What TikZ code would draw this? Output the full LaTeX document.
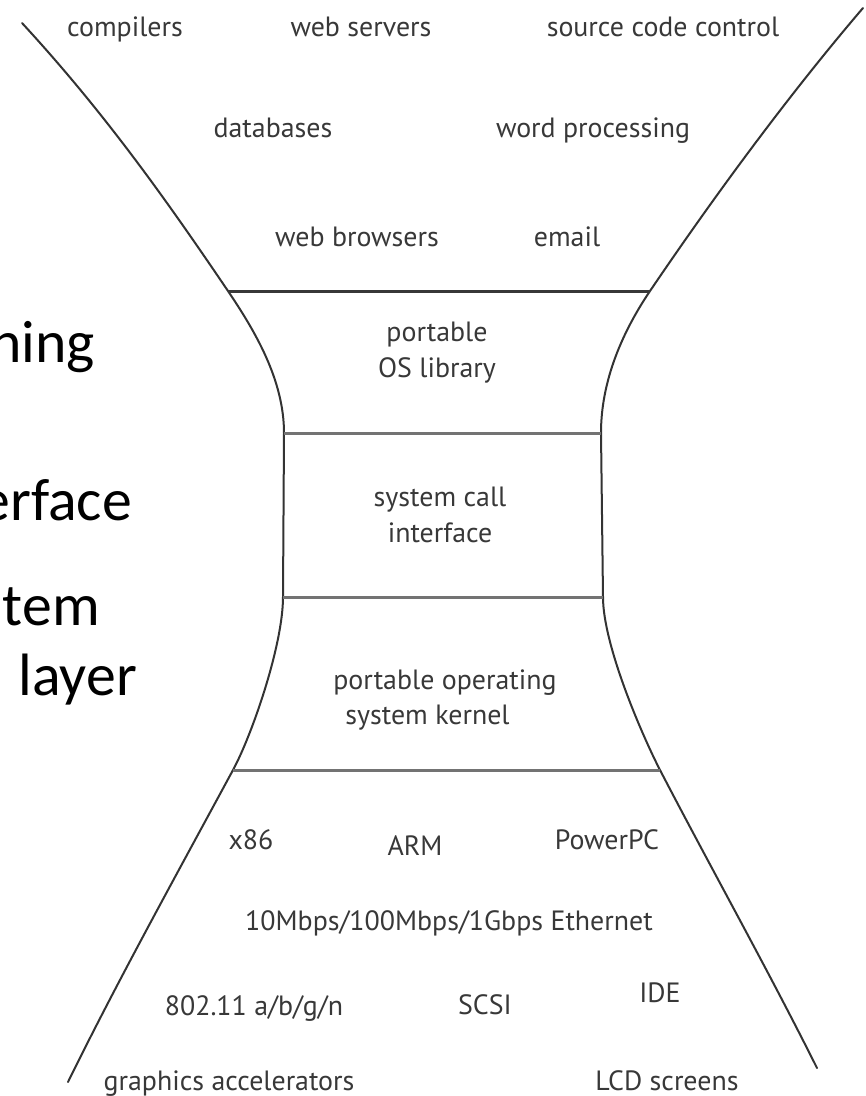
\documentclass[tikz,border=0pt]{standalone}
\usepackage{fontspec}
\setmainfont{PT Sans}
\newfontfamily\slidefont{Carlito}
\begin{document}
\begin{tikzpicture}[x=1bp,y=-1bp,
  outline/.style={line width=2bp, draw=black!80, line cap=round},
  band/.style={line width=3bp, draw=black!55},
  bandtop/.style={line width=3bp, draw=black!78},
  lbl/.style={font=\fontsize{28}{36}\selectfont, text=black!78, inner sep=0pt, text height=20bp, text depth=6bp},
  mlbl/.style={font=\fontsize{28}{36}\selectfont, text=black!78, inner sep=0pt, align=center},
  big/.style={font=\slidefont\fontsize{60}{72}\selectfont, text=black, inner sep=0pt, anchor=base east}]
\useasboundingbox (0,0) rectangle (866,1096);
\clip (0,0) rectangle (866,1096);
% corner coordinates
\coordinate (LT) at (22,23);
\coordinate (RT) at (863,8);
\coordinate (TL) at (228,291);
\coordinate (TR) at (650,291);
\coordinate (ML1) at (284,433);
\coordinate (MR1) at (601,433);
\coordinate (ML2) at (283,597);
\coordinate (MR2) at (603,597);
\coordinate (BL) at (233,770);
\coordinate (BR) at (660,770);
\coordinate (LB) at (68,1082);
\coordinate (RB) at (817,1068);
% outline
\draw[outline] (LT) .. controls (105,113) and (167,201) .. (TL)
  .. controls (255,331) and (284,380) .. (ML1) -- (ML2)
  .. controls (283,645) and (252,735) .. (BL)
  .. controls (179,870) and (117,982) .. (LB);
\draw[outline] (RT) .. controls (786,98) and (711,201) .. (TR)
  .. controls (623,331) and (601,380) .. (MR1) -- (MR2)
  .. controls (603,645) and (642,735) .. (BR)
  .. controls (712,870) and (767,968) .. (RB);
% band lines
\draw[bandtop] (TL) -- (TR);
\draw[band] (ML1) -- (MR1);
\draw[band] (ML2) -- (MR2);
\draw[band] (BL) -- (BR);
% applications
\node[lbl] (compilers) at (125,29) {compilers};
\node[lbl] (webservers) at (361,29) {web servers};
\node[lbl] (scc) at (663,29) {source code control};
\node[lbl] (databases) at (273,130) {databases};
\node[lbl] (wordproc) at (593,130) {word processing};
\node[lbl] (browsers) at (357,239) {web browsers};
\node[lbl] (email) at (567,239) {email};
% layers
\node[mlbl] (oslib) at (437,353) {portable\\OS library};
\node[mlbl] (syscall) at (440,515) {system call\\interface};
\node[mlbl, align=left] (kernel) at (445,700) {portable operating\\\hspace*{12bp}system kernel};
% hardware
\node[lbl] (x86) at (251,842) {x86};
\node[lbl] (arm) at (415,848) {ARM};
\node[lbl] (ppc) at (607,842) {PowerPC};
\node[lbl] (eth) at (449,923) {10Mbps/100Mbps/1Gbps Ethernet};
\node[lbl] (wifi) at (254,1008) {802.11 a/b/g/n};
\node[lbl] (scsi) at (485,1007) {SCSI};
\node[lbl] (ide) at (660,995) {IDE};
\node[lbl] (gfx) at (229,1083) {graphics accelerators};
\node[lbl] (lcd) at (667,1083) {LCD screens};
% slide text cut off at left
\node[big] (t1) at (95,362) {ning};
\node[big] (t2) at (132,520) {erface};
\node[big] (t3) at (100,625) {tem};
\node[big] (t4) at (137,695) {layer};
\end{tikzpicture}
\end{document}
